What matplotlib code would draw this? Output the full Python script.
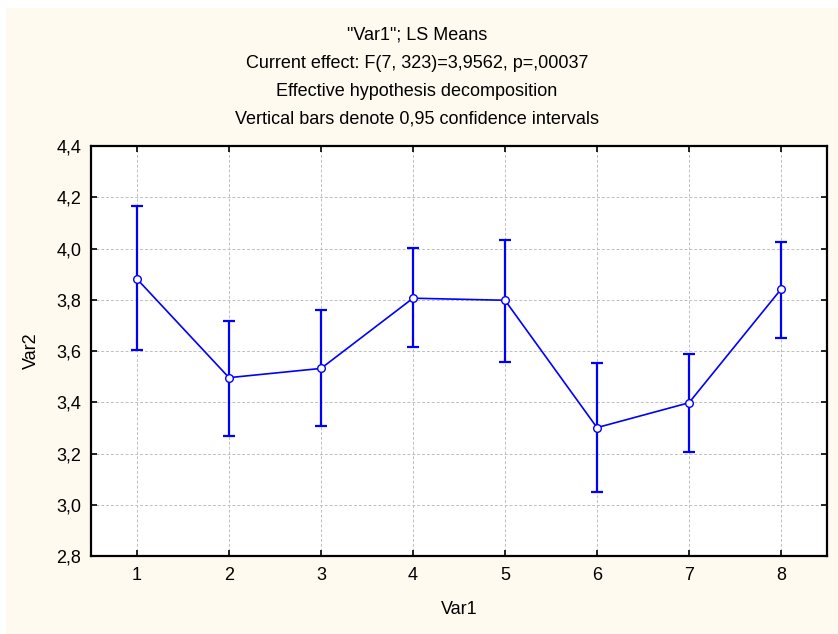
import numpy as np
from matplotlib import pyplot as plt
import matplotlib.patches as patches

plt.rcParams['font.family'] = ['Liberation Sans', 'DejaVu Sans']

# data
groups = [1, 2, 3, 4, 5, 6, 7, 8]
means = [3.881, 3.496, 3.532, 3.806, 3.798, 3.301, 3.398, 3.841]
upper = [4.166, 3.718, 3.760, 4.003, 4.033, 3.554, 3.587, 4.024]
lower = [3.604, 3.270, 3.306, 3.614, 3.558, 3.051, 3.206, 3.652]
yticks = [2.8, 3.0, 3.2, 3.4, 3.6, 3.8, 4.0, 4.2, 4.4]
titleLines = [ '"Var1"; LS Means',
               'Current effect: F(7, 323)=3,9562, p=,00037',
               'Effective hypothesis decomposition',
               'Vertical bars denote 0,95 confidence intervals' ]

W, H = 838, 634
fig = plt.figure( figsize=( W / 100, H / 100 ), dpi=100, facecolor='white' )
# cream panel behind the chart
fig.patches.append( patches.Rectangle( ( 6 / W, 0 ), 1, 1 - 8 / H, transform=fig.transFigure,
                                       fc='#FEFAF0', ec='none', zorder=-5 ) )

ax = fig.add_axes( [ 91 / W, 1 - 556 / H, ( 827 - 91 ) / W, ( 556 - 146 ) / H ] )
ax.set_facecolor( 'white' )

m = np.array( means )
yerr = np.vstack( [ m - np.array( lower ), np.array( upper ) - m ] )
ax.errorbar( groups, m, yerr=yerr, fmt='none', ecolor='#0000FF', elinewidth=1.6,
             capsize=4, capthick=1.6, zorder=3 )
ax.plot( groups, m, color='#0000FF', lw=1.2, marker='o', ms=5.5, mfc='white',
         mec='#0000FF', mew=1.0, zorder=4 )

ax.set_xlim( 0.5, 8.5 )
ax.set_ylim( 2.8, 4.4 )
ax.set_xticks( groups )
ax.set_yticks( yticks )
ax.set_yticklabels( [ f"{v:.1f}".replace( '.', ',' ) for v in yticks ] )
ax.tick_params( direction='in', length=4, width=1.2, top=True, right=True,
                labelsize=13, colors='black', pad=7 )
ax.tick_params( axis='x', pad=8 )
for s in ax.spines.values():
    s.set_linewidth( 1.6 )
ax.grid( True, color='#BFBFBF', ls=( 0, ( 3, 2 ) ), lw=0.7 )
ax.set_axisbelow( True )

ax.set_xlabel( 'Var1', fontsize=13, labelpad=12 )
ax.set_ylabel( 'Var2', fontsize=13, labelpad=12 )

for i, line in enumerate( titleLines ):
    fig.text( 417 / W, 1 - ( 40 + 28 * i ) / H, line, ha='center', va='baseline', fontsize=13 )

fig.savefig( 'out.png', dpi=100, facecolor=fig.get_facecolor() )
